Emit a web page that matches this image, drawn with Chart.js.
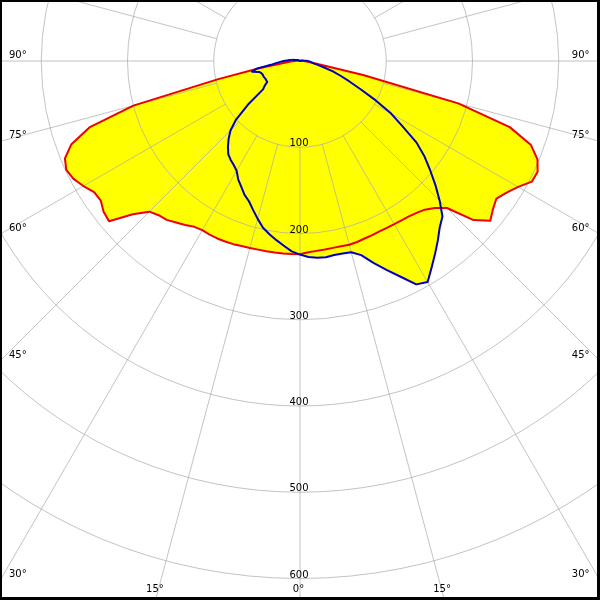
<!DOCTYPE html>
<html>
<head>
<meta charset="utf-8">
<script src="https://cdn.jsdelivr.net/npm/chart.js@4.4.0/dist/chart.umd.min.js"></script>
<style>
  html, body { margin: 0; padding: 0; background: #fff; overflow: hidden; }
  #frame { position: absolute; left: 0; top: 0; width: 600px; height: 600px; background: #000; }
  #plot { position: absolute; left: 2px; top: 2px; width: 595px; height: 595px; background: #fff; overflow: hidden; }
  #plot canvas { position: absolute; left: -392px; top: -631px; }
</style>
</head>
<body>
<div id="frame"><div id="plot"><canvas id="canvas" width="1380" height="1380"></canvas></div></div>
<script>
// gamma angles of one half plane, 0 = straight down, 180 = straight up
var gamma = [0,2.5,5,7.5,10,12.5,15,17.5,20,22.5,25,27.5,30,32.5,35,37.5,40,42.5,45,47.5,
  50,52.5,55,57.5,60,62.5,65,67.5,70,72.5,75,77.5,80,82.5,85,87.5,90,92.5,95,97.5,
  100,102.5,105,107.5,110,112.5,115,117.5,120,122.5,125,127.5,130,132.5,135,137.5,140,142.5,145,147.5,
  150,152.5,155,157.5,160,162.5,165,167.5,170,172.5,175,177.5,180];

// C180 (left) and C0 (right) half planes - red
var redLeft = [224,224,224,224,224,224,224.5,225,226,226.5,
  227,227,226.5,228,232,236,240.5,242.5,247,263,
  289,287,282,283,290,296,299,295,282,256,
  200,97,47,22,14,9,6,4,3,2,
  2,1,1,0,0,0,0,0,0,0,
  0,0,0,0,0,0,0,0,0,0,
  0,0,0,0,0,0,0,0,0,0,
  0,0,0];
var redRight = [223,222,221,220.5,220,220,220.5,220,219,218.5,
  218,218,218.5,219,220,222,225,231,241,273,
  288,282,278,284,292,303,304,298,285,255,
  190,75,22,12,8,6,4,3,2,2,
  1,1,0,0,0,0,0,0,0,0,
  0,0,0,0,0,0,0,0,0,0,
  0,0,0,0,0,0,0,0,0,0,
  0,0,0];

// C270 (left) and C90 (right) half planes - blue
var blueLeft = [224.5,221,215,209.5,204,198,189.5,181,173,168,
  161,155,147,143,140,136.5,130,122.5,114,100.5,
  79,54,50,45,45,45,45.5,46,46,47,
  49,57,51,34,28,23,19,15,12,10,
  8,6,5,4,3,3,2,2,1,1,
  1,0,0,0,0,0,0,0,0,0,
  0,0,0,0,0,0,0,0,0,0,
  0,0,0];
var blueRight = [225,227.5,229,229.5,228.5,228.5,229.5,236,249,262,
  276,292,296,284,273,262.5,252,244.5,229,213,
  197,182,165,141,122,99,77.5,62,50,40,
  29,21,16,14,12,11,9,7,5,4,
  3,2,2,1,1,0,0,0,0,0,
  0,0,0,0,0,0,0,0,0,0,
  0,0,0,0,0,0,0,0,0,0,
  0,0,0];

var rings = [100, 200, 300, 400, 500, 600];
var sideAngles = [90, 75, 60, 45, 30];
var bottomAngles = [15, 0];

// the radar goes clockwise from the bottom: left half up, then right half down
function fullCircle(left, right) {
  return left.concat(right.slice(1, right.length - 1).reverse());
}
var labels = fullCircle(gamma, gamma);

var gridColor = 'rgba(170,170,170,0.7)';

var labelPlugin = {
  id: 'photoLabels',
  afterDraw: function(chart) {
    var s = chart.scales.r;
    var ctx = chart.ctx;
    var xc = s.xCenter, yc = s.yCenter;
    ctx.save();
    ctx.font = '10px "DejaVu Sans"';
    ctx.fillStyle = '#000';
    ctx.textBaseline = 'alphabetic';
    ctx.textAlign = 'center';
    rings.forEach(function(v) {
      ctx.fillText(String(v), xc - 1, yc + s.getDistanceFromCenterForValue(v) - 1);
    });
    sideAngles.forEach(function(a) {
      var y = yc + (a === 90 ? 0 : 300 / Math.tan(a * Math.PI / 180)) - 3.5;
      ctx.textAlign = 'left';
      ctx.fillText(a + '°', xc - 291, y);
      ctx.textAlign = 'right';
      ctx.fillText(a + '°', xc + 289.5, y);
    });
    ctx.textAlign = 'center';
    bottomAngles.forEach(function(a) {
      var dx = 536 * Math.tan(a * Math.PI / 180);
      ctx.fillText(a + '°', xc - dx - 1.5, yc + 531);
      if (a) ctx.fillText(a + '°', xc + dx - 1.5, yc + 531);
    });
    ctx.restore();
  }
};

var chart = new Chart(document.getElementById('canvas'), {
  type: 'radar',
  data: {
    labels: labels,
    datasets: [{
      label: 'C90 - C270',
      data: fullCircle(blueLeft, blueRight),
      borderColor: '#0000c0',
      backgroundColor: '#ffff00',
      borderWidth: 2,
      fill: 'origin',
      pointRadius: 0
    }, {
      label: 'C0 - C180',
      data: fullCircle(redLeft, redRight),
      borderColor: '#ee0000',
      backgroundColor: '#ffff00',
      borderWidth: 2,
      fill: 'origin',
      pointRadius: 0
    }]
  },
  options: {
    responsive: false,
    devicePixelRatio: 1,
    animation: false,
    events: [],
    layout: { padding: 0 },
    elements: { line: { tension: 0, borderJoinStyle: 'round' } },
    plugins: {
      legend: { display: false },
      tooltip: { enabled: false },
      filler: { drawTime: 'beforeDraw' }
    },
    scales: {
      r: {
        min: 0,
        max: 800,
        startAngle: 180,
        ticks: { display: false, stepSize: 100 },
        pointLabels: { display: false },
        grid: {
          circular: true,
          lineWidth: 1,
          color: function(c) { return c.tick && c.tick.value <= 600 ? gridColor : 'rgba(0,0,0,0)'; }
        },
        angleLines: {
          lineWidth: function(c) { return c.index % 6 === 0 ? 1 : 0; },
          color: gridColor,
          borderDash: function(c) {
            return [0, c.chart.scales.r.getDistanceFromCenterForValue(100), 3000];
          }
        }
      }
    }
  },
  plugins: [labelPlugin]
});
</script>
</body>
</html>
